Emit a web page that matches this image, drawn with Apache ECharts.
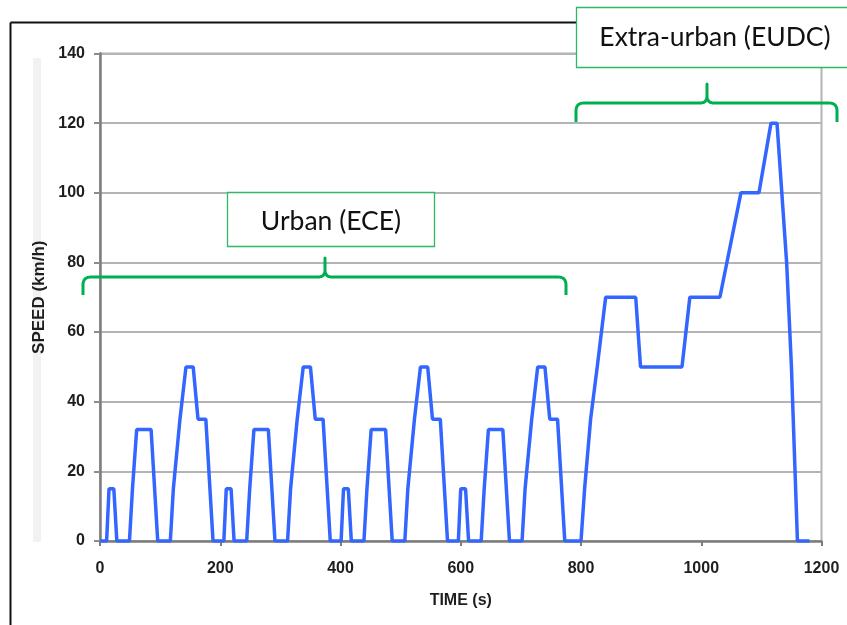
<!DOCTYPE html>
<html>
<head>
<meta charset="utf-8">
<title>NEDC driving cycle</title>
<script src="https://cdn.jsdelivr.net/npm/echarts@6/dist/echarts.min.js"></script>
<style>
  html, body { margin: 0; padding: 0; background: #fff; }
  #chart { width: 847px; height: 625px; }
</style>
</head>
<body>
<div id="chart"></div>
<script>
// NEDC: four urban ECE-15 cycles followed by the extra-urban EUDC phase
const timeS = [
  0, 11, 15, 23, 28, 49, 54, 56, 61, 85, 96, 117, 122, 124, 133, 135, 143, 155, 163, 176, 188,
  195, 206, 210, 218, 223, 244, 249, 251, 256, 280, 291, 312, 317, 319, 328, 330, 338, 350, 358, 371, 383,
  390, 401, 405, 413, 418, 439, 444, 446, 451, 475, 486, 507, 512, 514, 523, 525, 533, 545, 553, 566, 578,
  585, 596, 600, 608, 613, 634, 639, 641, 646, 670, 681, 702, 707, 709, 718, 720, 728, 740, 748, 761, 773,
  780, 800, 806, 808, 816, 818, 827, 829, 841, 891, 899, 968, 981, 1031, 1066, 1096, 1116, 1126, 1142, 1150, 1160, 1180
];
const speedKmh = [
  0, 0, 15, 15, 0, 0, 15, 15, 32, 32, 0, 0, 15, 15, 35, 35, 50, 50, 35, 35, 0,
  0, 0, 15, 15, 0, 0, 15, 15, 32, 32, 0, 0, 15, 15, 35, 35, 50, 50, 35, 35, 0,
  0, 0, 15, 15, 0, 0, 15, 15, 32, 32, 0, 0, 15, 15, 35, 35, 50, 50, 35, 35, 0,
  0, 0, 15, 15, 0, 0, 15, 15, 32, 32, 0, 0, 15, 15, 35, 35, 50, 50, 35, 35, 0,
  0, 0, 15, 15, 35, 35, 50, 50, 70, 70, 50, 50, 70, 70, 100, 100, 120, 120, 80, 50, 0, 0
];
const xTicks = [0, 200, 400, 600, 800, 1000, 1200];
const yTicks = [0, 20, 40, 60, 80, 100, 120, 140];
const phaseLabels = ['Urban (ECE)', 'Extra-urban (EUDC)'];

const points = timeS.map((t, i) => [t, speedKmh[i]]);

const axisFont = { fontFamily: 'Liberation Sans, Arial, sans-serif', fontWeight: 'bold', fontSize: 16, color: '#1e1e1e' };
const GREEN = '#00b050';

// Curly bracket outline: rounded ends dropping down and a small peak in the middle
function bracketPoints(x0, x1, xm, yBar, yEnd, yPeak) {
  const r = 8, pts = [];
  const quad = (p0, c, p1) => {
    for (let k = 0; k <= 8; k++) {
      const t = k / 8, u = 1 - t;
      pts.push([u * u * p0[0] + 2 * u * t * c[0] + t * t * p1[0], u * u * p0[1] + 2 * u * t * c[1] + t * t * p1[1]]);
    }
  };
  pts.push([x0, yEnd]);
  quad([x0, yBar + r], [x0, yBar], [x0 + r, yBar]);
  quad([xm - 7, yBar], [xm, yBar], [xm, yBar - 7]);
  pts.push([xm, yPeak]);
  quad([xm, yBar - 7], [xm, yBar], [xm + 7, yBar]);
  quad([x1 - r, yBar], [x1, yBar], [x1, yBar + r]);
  pts.push([x1, yEnd]);
  return pts;
}

const chart = echarts.init(document.getElementById('chart'), null, { renderer: 'canvas' });
chart.setOption({
  animation: false,
  backgroundColor: '#ffffff',
  grid: {
    left: 100, right: 25.5, top: 53.5, bottom: 84,
    show: true, borderColor: '#b4b4b4', borderWidth: 2, backgroundColor: 'transparent'
  },
  xAxis: {
    type: 'value',
    min: xTicks[0], max: xTicks[xTicks.length - 1], interval: 200,
    name: 'TIME (s)', nameLocation: 'middle', nameGap: 52,
    nameTextStyle: Object.assign({}, axisFont, { fontSize: 16 }),
    axisLine: { show: true, lineStyle: { color: '#7c7c7c', width: 2.5 } },
    axisTick: { show: true, length: 5, lineStyle: { color: '#7c7c7c', width: 2 } },
    axisLabel: Object.assign({ margin: 20, formatter: v => String(v) }, axisFont),
    splitLine: { show: false }
  },
  yAxis: {
    type: 'value',
    min: yTicks[0], max: yTicks[yTicks.length - 1], interval: 20,
    name: 'SPEED (km/h)', nameLocation: 'middle', nameGap: 52,
    nameTextStyle: Object.assign({}, axisFont, { fontSize: 17 }),
    axisLine: { show: true, lineStyle: { color: '#7c7c7c', width: 2.5 } },
    axisTick: { show: true, length: 6, lineStyle: { color: '#8c8c8c', width: 2 } },
    axisLabel: Object.assign({ margin: 15, formatter: v => String(v) }, axisFont),
    splitLine: { show: true, lineStyle: { color: '#b4b4b4', width: 2 } }
  },
  series: [{
    type: 'line',
    data: points,
    showSymbol: false,
    lineStyle: { color: '#3366ff', width: 3.5 },
    z: 3
  }],
  graphic: [
    // page frame
    { type: 'line', shape: { x1: 10.5, y1: 22.5, x2: 847, y2: 22.5 }, style: { stroke: '#111', lineWidth: 2 }, z: 1 },
    { type: 'line', shape: { x1: 10.5, y1: 22.5, x2: 10.5, y2: 625 }, style: { stroke: '#111', lineWidth: 2 }, z: 1 },
    // faint strip behind the y-axis title
    { type: 'rect', shape: { x: 33, y: 58, width: 8, height: 484 }, style: { fill: '#f2f2f2' }, z: -1 },
    // urban phase bracket and label
    {
      type: 'polyline', z: 10,
      shape: { points: bracketPoints(83, 566, 325, 277, 295, 258) },
      style: { fill: null, stroke: GREEN, lineWidth: 3, lineJoin: 'round' }
    },
    {
      type: 'rect', z: 10,
      shape: { x: 227.5, y: 192.5, width: 207, height: 54 },
      style: { fill: '#ffffff', stroke: '#2fb866', lineWidth: 1.3 }
    },
    {
      type: 'text', z: 11, x: 331, y: 221,
      style: { text: phaseLabels[0], fill: '#111', font: '26.5px Lato, "Open Sans", sans-serif', align: 'center', verticalAlign: 'middle' }
    },
    // extra-urban phase bracket and label
    {
      type: 'polyline', z: 10,
      shape: { points: bracketPoints(576, 837, 707, 103, 122, 84) },
      style: { fill: null, stroke: GREEN, lineWidth: 3, lineJoin: 'round' }
    },
    {
      type: 'rect', z: 10,
      shape: { x: 576.5, y: 7.5, width: 290, height: 60 },
      style: { fill: '#ffffff', stroke: '#2fb866', lineWidth: 1.3 }
    },
    {
      type: 'text', z: 11, x: 715, y: 37,
      style: { text: phaseLabels[1], fill: '#111', font: '26.5px Lato, "Open Sans", sans-serif', align: 'center', verticalAlign: 'middle' }
    }
  ]
});
</script>
</body>
</html>
